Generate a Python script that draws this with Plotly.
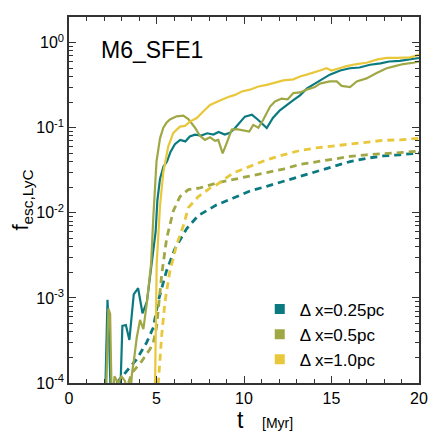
"""Escape fraction of LyC photons vs time for three resolutions."""

import plotly.graph_objects as go

# time [Myr] and f_esc for each resolution (solid = instantaneous, dashed = cumulative)
t_025 = [2.05, 2.2, 2.3, 2.4, 2.6, 2.8, 2.95, 3.05, 3.25, 3.45, 3.7, 3.95, 4.2, 4.45, 4.75,
         4.95, 5.05, 5.2, 5.4, 5.6, 5.8, 6.05, 6.35, 6.65, 6.9, 7.2, 7.55, 7.9, 8.25, 8.55,
         8.9, 9.2, 9.5, 10.05, 10.45, 10.8, 11.3, 11.65, 12.05, 12.45, 12.8, 13.2, 13.6,
         14.05, 14.35, 14.9, 15.5, 16.05, 16.6, 17.2, 17.8, 18.3, 18.9, 19.5, 20.0]
f_025 = [5e-5, 9.5e-4, 3e-4, 5e-5, 9e-5, 7e-5, 1e-4, 4.7e-4, 4.8e-4, 3.2e-4, 1.1e-3, 1.3e-3,
         6.6e-4, 9e-4, 2.8e-3, 6e-3, 0.014, 0.025, 0.035, 0.04, 0.052, 0.064, 0.072, 0.069,
         0.079, 0.083, 0.081, 0.086, 0.083, 0.089, 0.083, 0.087, 0.1, 0.135, 0.142, 0.124,
         0.099, 0.13, 0.16, 0.186, 0.21, 0.24, 0.29, 0.33, 0.36, 0.42, 0.47, 0.5, 0.51,
         0.55, 0.57, 0.6, 0.61, 0.64, 0.66]

t_05 = [2.1, 2.25, 2.35, 2.45, 2.6, 2.8, 3.0, 3.2, 3.45, 3.6, 3.73, 3.87, 4.06, 4.25, 4.44,
        4.69, 4.82, 5.0, 5.2, 5.39, 5.58, 5.77, 6.15, 6.53, 6.82, 7.2, 7.49, 7.77, 8.06,
        8.34, 8.53, 8.78, 9.01, 9.3, 9.58, 9.96, 10.3, 10.53, 10.82, 11.1, 11.49, 11.77,
        12.15, 12.5, 12.82, 13.2, 13.58, 14.05, 14.34, 14.9, 15.3, 15.58, 16.06, 16.44,
        17.0, 17.58, 18.15, 18.63, 19.1, 19.67, 20.0]
f_05 = [5e-5, 7.5e-4, 6.5e-4, 5e-5, 1.2e-4, 1.0e-4, 1.2e-4, 1.05e-4, 5e-5, 1.3e-4, 2.0e-4,
        3.4e-4, 5.5e-4, 4.3e-4, 8.5e-4, 2.5e-3, 9e-3, 0.04, 0.075, 0.1, 0.115, 0.125, 0.136,
        0.139, 0.126, 0.1, 0.08, 0.072, 0.077, 0.07, 0.072, 0.05, 0.066, 0.095, 0.096,
        0.093, 0.09, 0.108, 0.1, 0.124, 0.177, 0.203, 0.22, 0.216, 0.255, 0.26, 0.28, 0.3,
        0.33, 0.35, 0.35, 0.31, 0.3, 0.35, 0.38, 0.44, 0.5, 0.53, 0.56, 0.58, 0.6]

t_10 = [4.9, 4.95, 5.01, 5.2, 5.39, 5.67, 5.96, 6.34, 6.63, 6.91, 7.3, 7.67, 8.06, 8.53,
        9.1, 9.49, 9.87, 10.34, 10.82, 11.3, 11.77, 12.25, 12.82, 13.2, 13.58, 13.96,
        14.34, 14.72, 15.0, 15.3, 15.87, 16.44, 17.0, 17.58, 18.15, 18.7, 19.1, 19.5, 20.0]
f_10 = [5e-5, 5e-4, 2.5e-3, 0.012, 0.03, 0.06, 0.087, 0.103, 0.105, 0.118, 0.13, 0.155,
        0.185, 0.205, 0.23, 0.243, 0.266, 0.28, 0.305, 0.319, 0.34, 0.36, 0.37, 0.4, 0.42,
        0.44, 0.47, 0.5, 0.47, 0.49, 0.53, 0.56, 0.58, 0.63, 0.66, 0.66, 0.67, 0.67, 0.72]

td_025 = [2.72, 3.3, 3.87, 4.44, 4.82, 5.1, 5.58, 6.06, 6.72, 7.39, 8.44, 9.39, 10.34, 11.3,
          12.25, 13.2, 14.15, 15.1, 16.06, 17.0, 17.96, 18.9, 20.0]
fd_025 = [1e-4, 1.4e-4, 1.9e-4, 3e-4, 4.5e-4, 9.2e-4, 2.1e-3, 3.8e-3, 6.5e-3, 9.3e-3,
          0.0124, 0.0149, 0.018, 0.0205, 0.0234, 0.027, 0.0306, 0.035, 0.04, 0.0437,
          0.0466, 0.048, 0.0505]

td_05 = [3.4, 3.58, 4.15, 4.63, 4.82, 5.0, 5.3, 5.58, 5.96, 6.34, 6.82, 7.49, 8.44, 9.39,
         10.34, 11.3, 12.25, 13.2, 14.15, 15.1, 16.06, 17.0, 17.96, 18.9, 20.0]
fd_05 = [1e-4, 1.3e-4, 1.8e-4, 2.5e-4, 3e-4, 4.5e-4, 1.9e-3, 5e-3, 0.0105, 0.0155, 0.0187,
         0.0196, 0.0224, 0.0245, 0.027, 0.0294, 0.0327, 0.037, 0.04, 0.043, 0.046, 0.048,
         0.05, 0.051, 0.053]

td_10 = [5.0, 5.1, 5.3, 5.49, 5.77, 6.15, 6.53, 6.82, 7.39, 8.06, 8.44, 9.39, 10.34, 11.3,
         12.25, 13.2, 14.15, 15.1, 16.06, 17.0, 17.96, 18.9, 20.0]
fd_10 = [5e-5, 1e-4, 3.7e-4, 9.2e-4, 2.1e-3, 4.2e-3, 7e-3, 0.0115, 0.0155, 0.0195, 0.0214,
         0.0294, 0.035, 0.042, 0.048, 0.054, 0.058, 0.061, 0.065, 0.068, 0.071, 0.072,
         0.075]

labels = ["\u0394 x=0.25pc", "\u0394 x=0.5pc", "\u0394 x=1.0pc"]
colors = ["#0b7a80", "#a0a846", "#e8c83a"]

y_major = [1e-4, 1e-3, 1e-2, 1e-1, 1]
y_major_text = ["10<sup>-4</sup>", "10<sup>-3</sup>", "10<sup>-2</sup>",
                "10<sup>-1</sup>", "10<sup>0</sup>"]
y_minor = [m * 10 ** e for e in range(-4, 1) for m in range(2, 10)]

FONT = "Liberation Sans, Arial, sans-serif"

fig = go.Figure()

solid = [(t_025, f_025), (t_05, f_05), (t_10, f_10)]
dashed = [(td_025, fd_025), (td_05, fd_05), (td_10, fd_10)]

for (t, f), c in zip(dashed, colors):
    fig.add_trace(go.Scatter(x=t, y=f, mode="lines", showlegend=False,
                             line=dict(color=c, width=2.8, dash="7px,5px")))
for (t, f), c in zip(solid, colors):
    fig.add_trace(go.Scatter(x=t, y=f, mode="lines", showlegend=False,
                             line=dict(color=c, width=2.2)))

# legend: colour squares only
for lab, c in zip(labels, colors):
    fig.add_trace(go.Scatter(x=[None], y=[None], mode="markers", name=lab,
                             marker=dict(symbol="square", size=10, color=c)))

fig.add_annotation(text="M6_SFE1", x=0.085, y=0.952, xref="paper", yref="paper",
                   xanchor="left", yanchor="top", showarrow=False,
                   font=dict(size=23, color="black", family=FONT))

# x title: big "t" plus small unit, sitting right of centre as in the original
fig.add_annotation(text="t", x=0.489, y=-0.102, xref="paper", yref="paper",
                   xanchor="center", yanchor="middle", showarrow=False,
                   font=dict(size=23, color="black", family=FONT))
fig.add_annotation(text="[Myr]", x=0.597, y=-0.11, xref="paper", yref="paper",
                   xanchor="center", yanchor="middle", showarrow=False,
                   font=dict(size=14, color="black", family=FONT))

axis_common = dict(showline=True, linecolor="#333333", linewidth=1.5, mirror="allticks",
                   ticks="inside", tickcolor="#333333", showgrid=False, zeroline=False,
                   automargin=False)

fig.update_xaxes(range=[0, 20], tickvals=[0, 5, 10, 15, 20], ticklen=7, tickwidth=1.2,
                 minor=dict(dtick=1, ticks="inside", ticklen=4, tickcolor="#333333"),
                 tickfont=dict(size=16, color="black", family=FONT),
                 **axis_common)
fig.update_yaxes(type="log", range=[-4, 0.301], tickvals=y_major, ticktext=y_major_text,
                 ticklen=7, tickwidth=1.2,
                 minor=dict(tickmode="array", tickvals=y_minor, ticks="inside", ticklen=4,
                            tickcolor="#333333"),
                 tickfont=dict(size=16, color="black", family=FONT),
                 title=dict(text="f<sub>esc,LyC</sub>",
                            font=dict(size=22, color="black", family=FONT), standoff=2),
                 **axis_common)

# the page body adds an 8px offset, so the figure is 8px smaller than the window
fig.update_layout(
    width=428, height=428,
    margin=dict(l=61, r=17, t=9, b=53),
    plot_bgcolor="white", paper_bgcolor="white",
    font=dict(family=FONT, color="black"),
    legend=dict(x=0.545, y=0.25, xanchor="left", yanchor="top",
                bgcolor="rgba(0,0,0,0)", font=dict(size=17, color="black", family=FONT),
                itemwidth=30, tracegroupgap=0),
)

fig.write_html("out.html")
